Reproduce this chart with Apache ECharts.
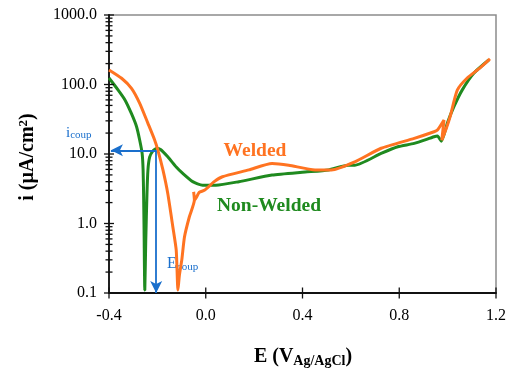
<!DOCTYPE html>
<html>
<head>
<meta charset="utf-8">
<script src="https://cdn.jsdelivr.net/npm/echarts@6/dist/echarts.min.js"></script>
<style>
html,body{margin:0;padding:0;background:#fff;}
#c{width:509px;height:371px;}
</style>
</head>
<body>
<div id="c"></div>
<script>
// Non-Welded (green): potential E (V Ag/AgCl) and current density i (µA/cm²)
const nonWeldedE = [-0.400,-0.362,-0.334,-0.307,-0.286,-0.273,-0.263,-0.259,-0.257,-0.255,-0.252,-0.248,-0.243,-0.239,-0.232,-0.219,-0.203,-0.187,-0.157,-0.122,-0.095,-0.054,-0.013,0.042,0.137,0.274,0.411,0.507,0.589,0.616,0.725,0.794,0.862,0.944,0.958,0.974,0.999,1.026,1.060,1.108,1.170];
const nonWeldedI = [124,83,60,38,24.7,15.8,10.2,5.9,2.7,0.8,0.11,0.57,2.7,5.9,9.0,11.0,12.0,11.6,9.1,6.5,5.25,4.0,3.56,3.56,4.0,4.97,5.5,5.9,6.9,6.9,10.2,12.7,14.2,17.7,18.1,15.3,27.9,47.9,83,145,225];
// Welded (orange)
const weldedE = [-0.400,-0.348,-0.307,-0.273,-0.239,-0.211,-0.198,-0.177,-0.157,-0.136,-0.122,-0.115,-0.109,-0.099,-0.088,-0.068,-0.047,-0.050,-0.045,-0.027,-0.006,0.035,0.069,0.178,0.274,0.343,0.452,0.520,0.616,0.725,0.862,0.944,0.958,0.985,0.976,0.995,1.011,1.040,1.081,1.134,1.175];
const weldedI = [162,123,88,53.6,27.6,15.8,11.4,5.9,2.7,0.89,0.41,0.11,0.18,0.30,0.64,1.24,2.17,2.85,2.2,2.8,3.0,4.0,4.7,5.9,7.3,6.9,5.9,5.9,7.7,12.1,16.8,20.9,22.1,30.8,15.8,23.6,35.2,83,124,173,233];
// Coupling point
const eCoup = -0.205;
const iCoup = 11.3;
// Axis ticks
const xTicks = [-0.4, 0.0, 0.4, 0.8, 1.2];
const yMajorTicks = [0.1, 1, 10, 100, 1000];
const yMinorTicks = [0.2,0.3,0.4,0.5,0.6,0.7,0.8,0.9,2,3,4,5,6,7,8,9,20,30,40,50,60,70,80,90,200,300,400,500,600,700,800,900];

const ORANGE = '#ff7321';
const GREEN = '#1f8a1f';
const BLUE = '#1a6fcc';
const FONT = '"Liberation Serif", "Times New Roman", serif';

const zip = (a, b) => a.map((v, k) => [v, b[k]]);

const chart = echarts.init(document.getElementById('c'), null, {renderer: 'canvas'});

function tickSeries(name, data, horizontal, half) {
  return {
    name: name, type: 'custom', silent: true, clip: false, z: 5,
    data: data,
    renderItem: function (params, api) {
      const p = api.coord([api.value(0), api.value(1)]);
      const shape = horizontal
        ? {x1: p[0] - half, y1: p[1], x2: p[0] + half, y2: p[1]}
        : {x1: p[0], y1: p[1] - half, x2: p[0], y2: p[1] + half};
      return {type: 'line', shape: shape, style: {stroke: '#111', lineWidth: 1.3}};
    }
  };
}

const option = {
  backgroundColor: '#fff',
  animation: false,
  grid: {left: 109, right: 10, top: 15, bottom: 78, show: true, borderColor: '#8c8c8c', borderWidth: 1.5, backgroundColor: 'transparent'},
  xAxis: {
    type: 'value', min: -0.4, max: 1.2, interval: 0.4,
    axisLine: {show: true, onZero: false, lineStyle: {color: '#111', width: 1.8}},
    axisTick: {show: false},
    splitLine: {show: false},
    axisLabel: {color: '#000', fontFamily: FONT, fontSize: 16, margin: 15,
      formatter: v => v.toFixed(1)}
  },
  yAxis: {
    type: 'log', logBase: 10, min: 0.1, max: 1000,
    axisLine: {show: true, onZero: false, lineStyle: {color: '#111', width: 1.8}},
    axisTick: {show: false},
    splitLine: {show: false},
    minorTick: {show: false},
    axisLabel: {color: '#000', fontFamily: FONT, fontSize: 16, margin: 12,
      formatter: v => Number(v).toFixed(1)}
  },
  series: [
    {
      name: 'Non-Welded', type: 'line', data: zip(nonWeldedE, nonWeldedI),
      showSymbol: false, smooth: 0.2, z: 3,
      lineStyle: {color: GREEN, width: 3}
    },
    {
      name: 'Welded', type: 'line', data: zip(weldedE, weldedI),
      showSymbol: false, smooth: 0.2, z: 4,
      lineStyle: {color: ORANGE, width: 3}
    },
    {
      name: 'coupling', type: 'line', data: [], z: 6,
      markLine: {
        silent: true, symbol: ['none', 'arrow'], symbolSize: [9, 12],
        label: {show: false},
        lineStyle: {color: BLUE, width: 1.8, type: 'solid'},
        data: [
          [{coord: [eCoup, iCoup]}, {coord: [-0.392, iCoup]}],
          [{coord: [eCoup, iCoup]}, {coord: [eCoup, 0.1]}]
        ]
      }
    },
    tickSeries('xTicks', xTicks.map(v => [v, 0.1]), false, 5.5),
    tickSeries('yMajor', yMajorTicks.map(v => [-0.4, v]), true, 5),
    tickSeries('yMinor', yMinorTicks.map(v => [-0.4, v]), true, 3.5)
  ],
  graphic: [
    {
      type: 'text', x: 303, y: 357, silent: true,
      style: {
        text: '{a|E (V}{b|Ag/AgCl}{a|)}', align: 'center', verticalAlign: 'middle',
        rich: {
          a: {fontFamily: FONT, fontSize: 20, fontWeight: 'bold', fill: '#000', lineHeight: 22},
          b: {fontFamily: FONT, fontSize: 14, fontWeight: 'bold', fill: '#000', lineHeight: 14, verticalAlign: 'bottom'}
        }
      }
    },
    {
      type: 'text', x: 28, y: 157, rotation: Math.PI / 2, silent: true,
      style: {
        text: '{a|i (µA/cm}{b|2}{a|)}', align: 'center', verticalAlign: 'middle',
        rich: {
          a: {fontFamily: FONT, fontSize: 20, fontWeight: 'bold', fill: '#000', lineHeight: 22},
          b: {fontFamily: FONT, fontSize: 13, fontWeight: 'bold', fill: '#000', lineHeight: 13, verticalAlign: 'top'}
        }
      }
    },
    {
      type: 'text', x: 255, y: 151, silent: true,
      style: {text: 'Welded', fontFamily: FONT, fontSize: 19.5, fontWeight: 'bold', fill: ORANGE, align: 'center', verticalAlign: 'middle'}
    },
    {
      type: 'text', x: 269, y: 206, silent: true,
      style: {text: 'Non-Welded', fontFamily: FONT, fontSize: 19.5, fontWeight: 'bold', fill: GREEN, align: 'center', verticalAlign: 'middle'}
    },
    {
      type: 'text', x: 66, y: 133, silent: true,
      style: {
        text: '{a|i}{b|coup}', align: 'left', verticalAlign: 'middle',
        rich: {
          a: {fontFamily: FONT, fontSize: 15, fill: BLUE, lineHeight: 16},
          b: {fontFamily: FONT, fontSize: 11, fill: BLUE, lineHeight: 11, verticalAlign: 'bottom'}
        }
      }
    },
    {
      type: 'text', x: 167, y: 264, silent: true,
      style: {
        text: '{a|E}{b|coup}', align: 'left', verticalAlign: 'middle',
        rich: {
          a: {fontFamily: FONT, fontSize: 16, fill: BLUE, lineHeight: 17},
          b: {fontFamily: FONT, fontSize: 11, fill: BLUE, lineHeight: 11, verticalAlign: 'bottom'}
        }
      }
    }
  ]
};
chart.setOption(option);
</script>
</body>
</html>
